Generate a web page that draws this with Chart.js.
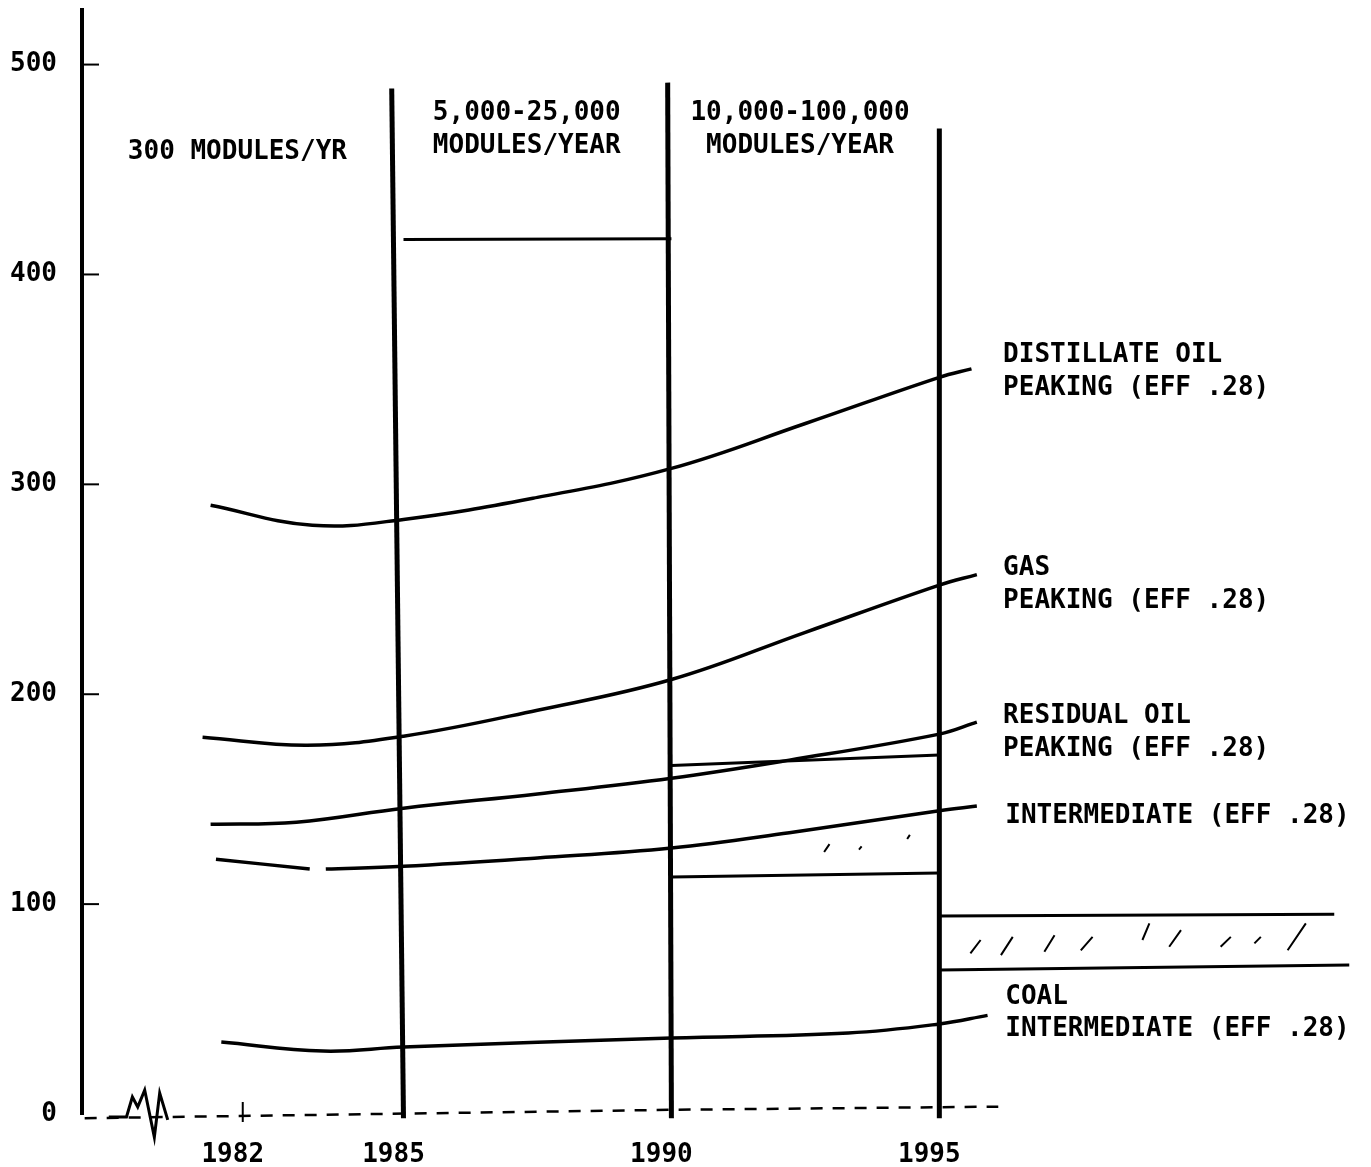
<!DOCTYPE html>
<html>
<head>
<meta charset="utf-8">
<script src="https://cdn.jsdelivr.net/npm/chart.js@4.4.1/dist/chart.umd.min.js"></script>
<style>
  html, body { margin: 0; padding: 0; background: #fff; }
  #wrap { width: 1371px; height: 1167px; position: relative; }
</style>
</head>
<body>
<div id="wrap"><canvas id="chart"></canvas></div>
<script>
// tick labels
const yearTicks = [1982, 1985, 1990, 1995];
const costTicks = [0, 100, 200, 300, 400, 500];

// cost curves (year, value)
const distillateYears = [1981.4, 1983.3, 1985, 1987.5, 1990, 1992.5, 1995, 1995.6];
const distillateCost = [290, 280.5, 283.3, 293.8, 307.6, 329, 351, 355];
const gasYears = [1981.25, 1983.2, 1985, 1987.5, 1990, 1992.5, 1995, 1995.7];
const gasCost = [179.5, 175.7, 180, 192.4, 207, 229.5, 252, 257];
const residualYears = [1981.4, 1983, 1985, 1987.5, 1990, 1992.2, 1995, 1995.7];
const residualCost = [138, 139, 145.7, 152.5, 160, 168.6, 181, 186.7];
const intermediateYears = [1981.5, 1983.25, 1983.4, 1983.55, 1985, 1987.5, 1990, 1992.2, 1995, 1995.7];
const intermediateCost = [121.4, 116.7, null, 116.7, 118, 122, 126.7, 134, 144.5, 146.7];
const coalYears = [1981.6, 1983.5, 1985, 1990, 1993.3, 1995, 1995.9];
const coalCost = [34.3, 30, 31.9, 36.2, 38.6, 42.9, 47];

// production-phase boundaries
const phaseYears = [1985, 1990, 1995];
const phaseTopYears = [1984.78, 1989.93, 1995];
const phaseTop = [488.6, 491.4, 469.5];
const phaseBottom = -2;

// module cost ranges
const rangeAYears = [1985, 1990];
const rangeA = [416.7, 417];
const rangeBYears = [1990, 1995];
const rangeBTop = [166, 171];
const rangeBBottom = [112.9, 114.8];
const rangeCTopYears = [1995, 2002.37];
const rangeCTop = [94.3, 95.2];
const rangeCBottomYears = [1995, 2002.65];
const rangeCBottom = [68.6, 71];

// hatch strokes inside ranges
const hatchX0 = [1992.85, 1993.5, 1994.4, 1995.58, 1996.15, 1996.96, 1997.64, 1998.79, 1999.29, 2000.25, 2000.88, 2001.5];
const hatchX1 = [1992.95, 1993.55, 1994.45, 1995.77, 1996.37, 1997.15, 1997.86, 1998.92, 1999.51, 2000.44, 2001.0, 2001.84];
const hatchY0 = [124.8, 126, 131, 76.5, 75.7, 77.3, 78, 82.9, 79.7, 79.7, 81.3, 78];
const hatchY1 = [128.6, 127.5, 133, 82.9, 84.4, 85.2, 84.4, 90.8, 87.6, 84.4, 84.4, 90.8];

// base line and its break mark
const axisYears = [1979.05, 1990, 1996.1];
const axisValues = [-2, 2, 3.5];
const breakYears = [1979.5, 1979.83, 1979.94, 1980.04, 1980.17, 1980.35, 1980.45, 1980.6];
const breakValues = [-1.4, -1.4, 8.1, 3.3, 11.4, -11, 10, -2.8];

// labels
const noteText = [
  "300 MODULES/YR",
  "5,000-25,000", "MODULES/YEAR",
  "10,000-100,000", "MODULES/YEAR",
  "DISTILLATE OIL", "PEAKING (EFF .28)",
  "GAS", "PEAKING (EFF .28)",
  "RESIDUAL OIL", "PEAKING (EFF .28)",
  "INTERMEDIATE (EFF .28)",
  "COAL", "INTERMEDIATE (EFF .28)"
];
const noteYears = [1981.9, 1987.3, 1987.3, 1992.4, 1992.4,
  1996.19, 1996.19, 1996.19, 1996.19, 1996.19, 1996.19, 1996.23, 1996.23, 1996.23];
const noteValues = [458, 477, 461, 477, 461,
  361.5, 346, 260, 244.5, 189.5, 174, 142, 55.5, 40.3];
const noteAlign = ["center", "center", "center", "center", "center",
  "left", "left", "left", "left", "left", "left", "left", "left", "left"];

const FONT = "DejaVu Sans Mono";

function pts(xs, ys) {
  return xs.map((x, i) => ({ x: x, y: ys[i] }));
}

function curve(xs, ys) {
  return { data: pts(xs, ys), borderColor: "#000", borderWidth: 3.5, pointRadius: 0,
    tension: 0.4, fill: false, spanGaps: false, clip: false };
}

function straight(xs, ys, width) {
  return { data: pts(xs, ys), borderColor: "#000", borderWidth: width, pointRadius: 0,
    tension: 0, fill: false, clip: false };
}

const datasets = [
  curve(distillateYears, distillateCost),
  curve(gasYears, gasCost),
  curve(residualYears, residualCost),
  curve(intermediateYears, intermediateCost),
  curve(coalYears, coalCost)
];

phaseYears.forEach((yr, i) => {
  datasets.push(straight([phaseTopYears[i], yr], [phaseTop[i], phaseBottom], 5));
});

datasets.push(straight(rangeAYears, rangeA, 3));
datasets.push(straight(rangeBYears, rangeBTop, 3));
datasets.push(straight(rangeBYears, rangeBBottom, 3));
datasets.push(straight(rangeCTopYears, rangeCTop, 3));
datasets.push(straight(rangeCBottomYears, rangeCBottom, 3));

const hatchPts = [];
hatchX0.forEach((x, i) => {
  hatchPts.push({ x: x, y: hatchY0[i] });
  hatchPts.push({ x: hatchX1[i], y: hatchY1[i] });
  hatchPts.push({ x: hatchX1[i] + 0.01, y: null });
});
datasets.push({ data: hatchPts, borderColor: "#000", borderWidth: 2, pointRadius: 0,
  tension: 0, spanGaps: false, clip: false });

const axisLine = straight(axisYears, axisValues, 2.5);
axisLine.borderDash = [12, 10];
datasets.push(axisLine);
datasets.push(straight(breakYears, breakValues, 3));

const inkPlugin = {
  id: "ink",
  afterDatasetsDraw(chart) {
    const ctx = chart.ctx;
    const x = chart.scales.x;
    const y = chart.scales.y;
    ctx.save();
    ctx.strokeStyle = "#000";
    ctx.lineWidth = 2;
    costTicks.forEach(v => {
      if (v === 0) return;
      const py = y.getPixelForValue(v);
      ctx.beginPath();
      ctx.moveTo(x.left, py);
      ctx.lineTo(x.left + 17, py);
      ctx.stroke();
    });
    const px = x.getPixelForValue(yearTicks[0]);
    const p0 = y.getPixelForValue(0);
    ctx.beginPath();
    ctx.moveTo(px, p0 - 12);
    ctx.lineTo(px, p0 + 8);
    ctx.stroke();

    ctx.fillStyle = "#000";
    ctx.font = "bold 26px '" + FONT + "'";
    ctx.textBaseline = "middle";
    noteText.forEach((t, i) => {
      ctx.textAlign = noteAlign[i];
      ctx.fillText(t, x.getPixelForValue(noteYears[i]), y.getPixelForValue(noteValues[i]));
    });
    ctx.restore();
  }
};

new Chart(document.getElementById("chart"), {
  type: "line",
  data: { datasets: datasets },
  plugins: [inkPlugin],
  options: {
    responsive: true,
    maintainAspectRatio: false,
    animation: false,
    layout: { padding: { top: 10, right: 3, left: 0, bottom: 0 } },
    plugins: {
      legend: { display: false },
      tooltip: { enabled: false }
    },
    scales: {
      x: {
        type: "linear",
        min: 1979,
        max: 2003,
        grid: { display: false, drawTicks: false },
        border: { display: false },
        afterBuildTicks: s => { s.ticks = yearTicks.map(v => ({ value: v })); },
        afterFit: s => { s.height = 53; s.paddingLeft = 0; s.paddingRight = 0; },
        ticks: {
          color: "#000",
          font: { family: FONT, size: 26, weight: "bold" },
          padding: 26,
          labelOffset: -10,
          maxRotation: 0,
          autoSkip: false,
          callback: v => String(v)
        }
      },
      y: {
        min: 0,
        max: 526,
        grid: { display: false, drawTicks: false },
        border: { display: true, color: "#000", width: 4 },
        afterBuildTicks: s => { s.ticks = costTicks.map(v => ({ value: v })); },
        afterFit: s => { s.width = 82; s.paddingTop = 0; s.paddingBottom = 0; },
        ticks: {
          color: "#000",
          font: { family: FONT, size: 26, weight: "bold" },
          padding: 25,
          callback: v => String(v)
        }
      }
    }
  }
});
</script>
</body>
</html>
